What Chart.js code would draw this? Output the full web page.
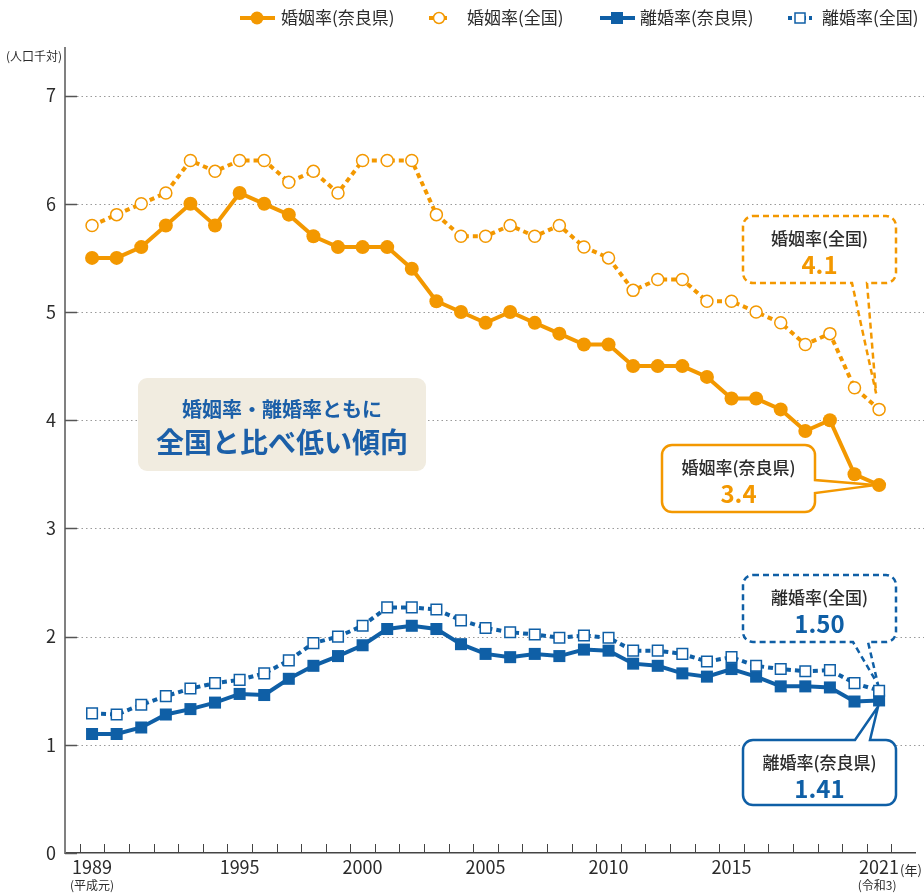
<!DOCTYPE html>
<html lang="ja">
<head>
<meta charset="utf-8">
<script src="https://cdn.jsdelivr.net/npm/chart.js@4.4.0/dist/chart.umd.min.js"></script>
<style>
  body { margin: 0; background: #fff; }
  #wrap { width: 924px; height: 893px; }
</style>
</head>
<body>
<div id="wrap"><canvas id="rate-chart" width="924" height="893"></canvas></div>
<script>
// data
var years = [1989, 1990, 1991, 1992, 1993, 1994, 1995, 1996, 1997, 1998, 1999, 2000, 2001,
             2002, 2003, 2004, 2005, 2006, 2007, 2008, 2009, 2010, 2011, 2012, 2013, 2014,
             2015, 2016, 2017, 2018, 2019, 2020, 2021];
var marriageNara = [5.5, 5.5, 5.6, 5.8, 6.0, 5.8, 6.1, 6.0, 5.9, 5.7, 5.6, 5.6, 5.6,
                    5.4, 5.1, 5.0, 4.9, 5.0, 4.9, 4.8, 4.7, 4.7, 4.5, 4.5, 4.5, 4.4,
                    4.2, 4.2, 4.1, 3.9, 4.0, 3.5, 3.4];
var marriageJapan = [5.8, 5.9, 6.0, 6.1, 6.4, 6.3, 6.4, 6.4, 6.2, 6.3, 6.1, 6.4, 6.4,
                     6.4, 5.9, 5.7, 5.7, 5.8, 5.7, 5.8, 5.6, 5.5, 5.2, 5.3, 5.3, 5.1,
                     5.1, 5.0, 4.9, 4.7, 4.8, 4.3, 4.1];
var divorceNara = [1.10, 1.10, 1.16, 1.28, 1.33, 1.39, 1.47, 1.46, 1.61, 1.73, 1.82, 1.92, 2.07,
                   2.10, 2.07, 1.93, 1.84, 1.81, 1.84, 1.82, 1.88, 1.87, 1.75, 1.73, 1.66, 1.63,
                   1.70, 1.63, 1.54, 1.54, 1.53, 1.40, 1.41];
var divorceJapan = [1.29, 1.28, 1.37, 1.45, 1.52, 1.57, 1.60, 1.66, 1.78, 1.94, 2.00, 2.10, 2.27,
                    2.27, 2.25, 2.15, 2.08, 2.04, 2.02, 1.99, 2.01, 1.99, 1.87, 1.87, 1.84, 1.77,
                    1.81, 1.73, 1.70, 1.68, 1.69, 1.57, 1.50];
var xTickYears = [1989, 1995, 2000, 2005, 2010, 2015, 2021];
var yTicks = [0, 1, 2, 3, 4, 5, 6, 7];

var ORANGE = '#F39800';
var BLUE = '#0F5FA6';
var TEXT = '#2b2b2b';
var FONT = '"Noto Sans CJK JP", "Noto Sans", sans-serif';

function pts(vals) {
  return years.map(function (yr, i) { return { x: yr, y: vals[i] }; });
}

// rounded box with a pointer on one side
function calloutPath(ctx, c) {
  var x = c.x, y = c.y, w = c.w, h = c.h, r = 10;
  ctx.beginPath();
  ctx.moveTo(x + r, y);
  if (c.side === 'top') { ctx.lineTo(c.b1, y); ctx.lineTo(c.tip.x, c.tip.y); ctx.lineTo(c.b2, y); }
  ctx.lineTo(x + w - r, y);
  ctx.arcTo(x + w, y, x + w, y + r, r);
  if (c.side === 'right') { ctx.lineTo(x + w, c.b1); ctx.lineTo(c.tip.x, c.tip.y); ctx.lineTo(x + w, c.b2); }
  ctx.lineTo(x + w, y + h - r);
  ctx.arcTo(x + w, y + h, x + w - r, y + h, r);
  if (c.side === 'bottom') { ctx.lineTo(c.b2, y + h); ctx.lineTo(c.tip.x, c.tip.y); ctx.lineTo(c.b1, y + h); }
  ctx.lineTo(x + r, y + h);
  ctx.arcTo(x, y + h, x, y + h - r, r);
  ctx.lineTo(x, y + r);
  ctx.arcTo(x, y, x + r, y, r);
  ctx.closePath();
}

var decor = {
  id: 'decor',
  beforeDatasetsDraw: function (chart) {
    var ctx = chart.ctx, area = chart.chartArea;
    var xs = chart.scales.x, ys = chart.scales.y;
    ctx.save();

    // dotted grid
    ctx.strokeStyle = '#9a9a9a';
    ctx.lineWidth = 1;
    ctx.setLineDash([1.5, 3]);
    yTicks.forEach(function (v) {
      if (v === 0) return;
      var py = Math.round(ys.getPixelForValue(v)) + 0.5;
      ctx.beginPath(); ctx.moveTo(area.left + 12, py); ctx.lineTo(924, py); ctx.stroke();
    });
    ctx.setLineDash([]);

    // y tick marks pointing in
    ctx.strokeStyle = '#555';
    ctx.lineWidth = 1.5;
    yTicks.forEach(function (v) {
      var py = Math.round(ys.getPixelForValue(v)) + 0.5;
      ctx.beginPath(); ctx.moveTo(area.left, py); ctx.lineTo(area.left + 12, py); ctx.stroke();
    });

    // x minor ticks at year boundaries
    ctx.lineWidth = 1;
    ctx.strokeStyle = '#444';
    for (var yr = 1988.5; yr < 2022.5; yr += 1) {
      var px = Math.round(xs.getPixelForValue(yr)) + 0.5;
      ctx.beginPath(); ctx.moveTo(px, area.bottom); ctx.lineTo(px, area.bottom - 9); ctx.stroke();
    }

    // summary box
    ctx.fillStyle = '#F1ECE0';
    ctx.beginPath();
    ctx.roundRect(138, 378, 288, 93, 9);
    ctx.fill();
    ctx.fillStyle = '#1B5FA8';
    ctx.textAlign = 'center';
    ctx.textBaseline = 'middle';
    ctx.font = 'bold 20px ' + FONT;
    ctx.fillText('婚姻率・離婚率ともに', 282, 409);
    ctx.font = 'bold 28px ' + FONT;
    ctx.fillText('全国と比べ低い傾向', 282, 442);

    // callouts
    var last = years.length - 1;
    var pMJ = chart.getDatasetMeta(0).data[last];
    var pDJ = chart.getDatasetMeta(1).data[last];
    var pMN = chart.getDatasetMeta(2).data[last];
    var pDN = chart.getDatasetMeta(3).data[last];
    var callouts = [
      { x: 743, y: 216, w: 153, h: 67, side: 'bottom', b1: 852, b2: 867, tip: { x: pMJ.x - 3, y: pMJ.y - 16 },
        color: ORANGE, dashed: true, label: '婚姻率(全国)', value: '4.1' },
      { x: 662, y: 445, w: 153, h: 67, side: 'right', b1: 480, b2: 493, tip: { x: pMN.x - 4, y: pMN.y },
        color: ORANGE, dashed: false, label: '婚姻率(奈良県)', value: '3.4' },
      { x: 743, y: 575, w: 153, h: 67, side: 'bottom', b1: 853, b2: 868, tip: { x: pDJ.x - 1, y: pDJ.y - 6 },
        color: BLUE, dashed: true, label: '離婚率(全国)', value: '1.50' },
      { x: 743, y: 740, w: 153, h: 65, side: 'top', b1: 855, b2: 870, tip: { x: pDN.x - 1, y: pDN.y + 6 },
        color: BLUE, dashed: false, label: '離婚率(奈良県)', value: '1.41' }
    ];
    callouts.forEach(function (c) {
      calloutPath(ctx, c);
      ctx.fillStyle = '#fff';
      ctx.fill();
      ctx.strokeStyle = c.color;
      ctx.lineWidth = 2.5;
      ctx.setLineDash(c.dashed ? [6, 4] : []);
      ctx.stroke();
      ctx.setLineDash([]);
      var cx = c.x + c.w / 2;
      ctx.fillStyle = TEXT;
      ctx.font = '500 17px ' + FONT;
      ctx.fillText(c.label, cx, c.y + 23);
      ctx.fillStyle = c.color;
      ctx.font = 'bold 24px ' + FONT;
      ctx.fillText(c.value, cx, c.y + 49);
    });
    ctx.restore();
  },
  afterDraw: function (chart) {
    var ctx = chart.ctx;
    var xs = chart.scales.x;
    ctx.save();
    ctx.fillStyle = TEXT;
    ctx.textBaseline = 'middle';

    // unit labels
    ctx.font = '12px ' + FONT;
    ctx.textAlign = 'center';
    ctx.fillText('(人口千対)', 34, 56);
    ctx.fillText('(平成元)', xs.getPixelForValue(1989), 885);
    ctx.fillText('(令和3)', xs.getPixelForValue(2021) - 2, 885);
    ctx.textAlign = 'left';
    ctx.font = '13px ' + FONT;
    ctx.fillText('(年)', 900, 870);

    // legend
    var y = 18;
    ctx.font = '17px ' + FONT;
    // 婚姻率(奈良県)
    ctx.strokeStyle = ORANGE; ctx.lineWidth = 4;
    ctx.beginPath(); ctx.moveTo(240, y); ctx.lineTo(275, y); ctx.stroke();
    ctx.fillStyle = ORANGE;
    ctx.beginPath(); ctx.arc(257, y, 6.5, 0, Math.PI * 2); ctx.fill();
    ctx.fillStyle = TEXT; ctx.fillText('婚姻率(奈良県)', 281, y);
    // 婚姻率(全国)
    ctx.setLineDash([4, 3]);
    ctx.beginPath(); ctx.moveTo(429, y); ctx.lineTo(449, y); ctx.stroke();
    ctx.setLineDash([]);
    ctx.fillStyle = '#fff'; ctx.lineWidth = 1.5;
    ctx.beginPath(); ctx.arc(439, y, 5.5, 0, Math.PI * 2); ctx.fill(); ctx.stroke();
    ctx.fillStyle = TEXT; ctx.fillText('婚姻率(全国)', 467, y);
    // 離婚率(奈良県)
    ctx.strokeStyle = BLUE; ctx.lineWidth = 4;
    ctx.beginPath(); ctx.moveTo(600, y); ctx.lineTo(635, y); ctx.stroke();
    ctx.fillStyle = BLUE; ctx.fillRect(611, y - 6, 12, 12);
    ctx.fillStyle = TEXT; ctx.fillText('離婚率(奈良県)', 640, y);
    // 離婚率(全国)
    ctx.setLineDash([4, 3]);
    ctx.beginPath(); ctx.moveTo(788, y); ctx.lineTo(812, y); ctx.stroke();
    ctx.setLineDash([]);
    ctx.fillStyle = '#fff'; ctx.lineWidth = 1.5;
    ctx.fillRect(795, y - 5, 10, 10); ctx.strokeRect(795, y - 5, 10, 10);
    ctx.fillStyle = TEXT; ctx.fillText('離婚率(全国)', 822, y);
    ctx.restore();
  }
};

var ctx = document.getElementById('rate-chart');

var chartData = {
  datasets: [
    { label: '婚姻率(全国)', data: pts(marriageJapan), borderColor: ORANGE, borderWidth: 4, borderDash: [5, 4],
      pointStyle: 'circle', pointRadius: 6, pointBorderWidth: 1.5, pointBorderColor: ORANGE, pointBackgroundColor: '#fff' },
    { label: '離婚率(全国)', data: pts(divorceJapan), borderColor: BLUE, borderWidth: 4, borderDash: [5, 4],
      pointStyle: 'rect', pointRadius: 7.5, pointBorderWidth: 1.5, pointBorderColor: BLUE, pointBackgroundColor: '#fff' },
    { label: '婚姻率(奈良県)', data: pts(marriageNara), borderColor: ORANGE, borderWidth: 4,
      pointStyle: 'circle', pointRadius: 7, pointBorderWidth: 0, pointBackgroundColor: ORANGE },
    { label: '離婚率(奈良県)', data: pts(divorceNara), borderColor: BLUE, borderWidth: 4,
      pointStyle: 'rect', pointRadius: 8.5, pointBorderWidth: 0, pointBackgroundColor: BLUE }
  ]
};

var chartOptions = {
  responsive: false,
  animation: false,
  layout: { padding: { top: 48, right: 2, left: 0, bottom: 0 } },
  plugins: { legend: { display: false }, tooltip: { enabled: false } },
  scales: {
    x: {
      type: 'linear',
      min: 1987.9,
      max: 2022.46,
      afterBuildTicks: function (s) { s.ticks = xTickYears.map(function (v) { return { value: v }; }); },
      afterFit: function (s) { s.height = 40; },
      grid: { display: false, drawTicks: false },
      border: { color: '#444', width: 1.5 },
      ticks: { color: TEXT, padding: 3, autoSkip: false, maxRotation: 0,
               font: { family: FONT, size: 18 }, callback: function (v) { return String(v); } }
    },
    y: {
      min: 0,
      max: 7.44,
      afterBuildTicks: function (s) { s.ticks = yTicks.map(function (v) { return { value: v }; }); },
      afterFit: function (s) { s.width = 65; },
      grid: { display: false, drawTicks: false },
      border: { color: '#808080', width: 2 },
      ticks: { color: TEXT, padding: 9, font: { family: FONT, size: 18 } }
    }
  }
};

var rateChart = new Chart(ctx, { type: 'line', data: chartData, options: chartOptions, plugins: [decor] });
</script>
</body>
</html>
